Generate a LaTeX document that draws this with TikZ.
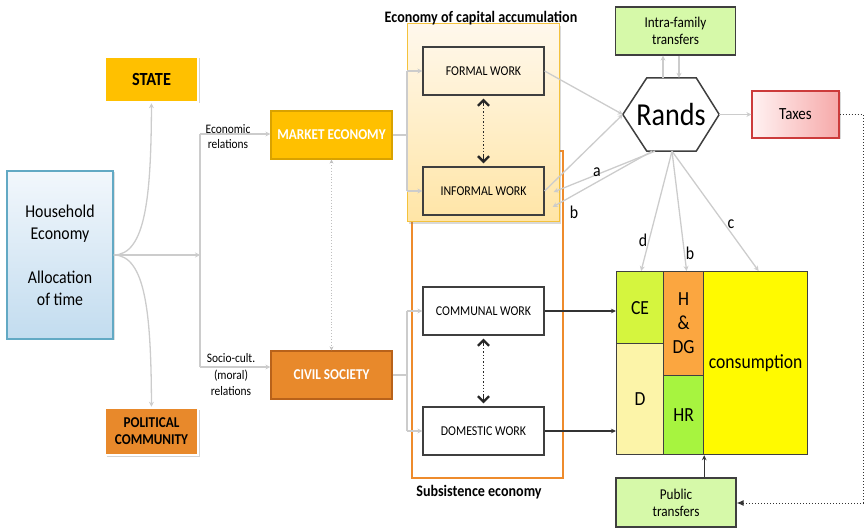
\documentclass[tikz,border=0pt]{standalone}
\usepackage{fontspec}
\setmainfont[FakeStretch=0.88]{Carlito}
\usetikzlibrary{arrows.meta,shadows,calc}

\definecolor{lineGrey}{HTML}{CCCCCC}
\definecolor{boxEdge}{HTML}{3F3F3F}
\definecolor{stateFill}{HTML}{FFC000}
\definecolor{stateEdge}{HTML}{D9A200}
\definecolor{civilFill}{HTML}{E8892B}
\definecolor{civilEdge}{HTML}{B8621A}
\definecolor{hhTop}{HTML}{F2F7FC}
\definecolor{hhBottom}{HTML}{C2DCEF}
\definecolor{hhEdge}{HTML}{62A9C4}
\definecolor{capTop}{HTML}{FFF8EC}
\definecolor{capBottom}{HTML}{FFE5A6}
\definecolor{capEdge}{HTML}{F4C23C}
\definecolor{subEdge}{HTML}{EE8B2C}
\definecolor{transferFill}{HTML}{D6F9A9}
\definecolor{taxLeft}{HTML}{FFF2F2}
\definecolor{taxRight}{HTML}{F6A9A9}
\definecolor{taxEdge}{HTML}{CC3B3B}
\definecolor{ceFill}{HTML}{D5F53E}
\definecolor{dFill}{HTML}{FCF4A8}
\definecolor{hdgFill}{HTML}{FBA640}
\definecolor{hrFill}{HTML}{A7F43F}
\definecolor{consFill}{HTML}{FFFA00}

\tikzset{
  fs/.style 2 args={font=\fontsize{#1}{#2}\selectfont},
  grey/.style={draw=lineGrey, line width=1.3pt},
  garrow/.style={grey, -{Stealth[length=5pt,width=5pt]}},
  darrow/.style={draw=black!80, line width=1.4pt, -{Stealth[length=5pt,width=4.5pt]}},
  dotlink/.style={draw=black!85, line width=1.3pt, dotted},
  chevtip/.style={draw=black!85, line width=1.3pt, solid,
    -{Straight Barb[length=5.5pt,width=11pt,line width=2.4pt]}},
  workbox/.style={draw=boxEdge, line width=1.2pt, minimum width=121pt, minimum height=48pt,
    inner sep=0pt, fs={13.5}{16}},
  colourbox/.style={minimum width=121pt, minimum height=48pt, inner sep=0pt,
    text=white, font=\bfseries\fontsize{15}{18}\selectfont},
  pillar/.style={draw=white, line width=2.5pt, minimum width=93pt, inner sep=0pt,
    align=center, drop shadow={shadow xshift=1.5pt, shadow yshift=-1.5pt, opacity=0.35}},
  transfer/.style={draw=boxEdge, line width=1.2pt, fill=transferFill, minimum width=120pt,
    minimum height=48pt, inner sep=0pt, align=center, fs={15}{17}},
  cell/.style={draw=boxEdge, line width=1.2pt, anchor=north west, inner sep=0pt,
    align=center, fs={20}{24}},
  letter/.style={fs={18}{20}},
  caption/.style={font=\bfseries\fontsize{16}{18}\selectfont},
}

\begin{document}
\begin{tikzpicture}[x=1pt,y=-1pt]
\useasboundingbox (0,0) rectangle (865,529);

% ---- household and the two spheres it reaches ----
\node[draw=hhEdge, line width=1.2pt, top color=hhTop, bottom color=hhBottom,
      minimum width=106pt, minimum height=168pt, inner sep=0pt, align=center,
      fs={18}{22},
      drop shadow={shadow xshift=1.5pt, shadow yshift=-1.5pt, opacity=0.25}]
  (hh) at (60,255) {Household\\Economy\\[22pt]Allocation\\of time};

\node[pillar, fill=stateFill, minimum height=45pt,
      font=\bfseries\fontsize{18.5}{20}\selectfont] (state) at (151.5,79.5) {STATE};
\node[pillar, fill=civilFill, minimum height=47pt,
      font=\bfseries\fontsize{15}{17}\selectfont] (polcom) at (151.5,431.5) {POLITICAL\\COMMUNITY};

\draw[garrow] (hh.east) .. controls (146,255) and (151,195) .. (state.south);
\draw[garrow] (hh.east) .. controls (146,255) and (151,315) .. (polcom.north);

% ---- economic and socio-cultural relations ----
\node[colourbox, draw=stateEdge, line width=1.2pt, fill=stateFill] (market) at (331.5,135) {MARKET ECONOMY};
\node[colourbox, draw=civilEdge, line width=1.2pt, fill=civilFill] (civil) at (331.5,375) {CIVIL SOCIETY};

\coordinate (split) at (200,255);
\coordinate (splitTop) at (200,134);
\coordinate (splitBot) at (200,367);
\draw[garrow] (hh.east) -- (split);
\draw[grey] (splitTop) -- (splitBot);
\draw[garrow] (splitTop) -- (splitTop -| market.west);
\draw[garrow] (splitBot) -- (splitBot -| civil.west);

\node[fs={13}{15}, align=center] (econlab) at (228,137) {Economic\\relations};
\node[fs={13}{16.5}, align=center] (sociolab) at (231,375) {Socio-cult.\\(moral)\\relations};

\draw[draw=black!25, line width=0.9pt, dotted,
      {Stealth[length=4pt,width=4pt]}-{Stealth[length=4pt,width=4pt]}]
  (market.south) -- (civil.north);

% ---- subsistence economy frame (under the capital frame) ----
\draw[draw=subEdge, line width=1.8pt] (412,151) rectangle (563,478);
\node[caption] (subtitle) at (479,492) {Subsistence economy};

% ---- economy of capital accumulation ----
\draw[draw=capEdge, line width=1pt, top color=capTop, bottom color=capBottom,
      drop shadow={shadow xshift=2pt, shadow yshift=-2pt, opacity=0.3}]
  (407,24) rectangle (559,222);
\node[caption] (captitle) at (481,18) {Economy of capital accumulation};

\node[workbox] (formal) at (483.5,71) {FORMAL WORK};
\node[workbox] (informal) at (483.5,191) {INFORMAL WORK};
\node[workbox] (communal) at (483.5,311) {COMMUNAL WORK};
\node[workbox] (domestic) at (483.5,431) {DOMESTIC WORK};

% dotted two-way links between the kinds of work
\draw[dotlink] ([yshift=-6pt]formal.south) -- ([yshift=6pt]informal.north);
\draw[chevtip] ([yshift=-10pt]formal.south) -- ([yshift=-3pt]formal.south);
\draw[chevtip] ([yshift=10pt]informal.north) -- ([yshift=3pt]informal.north);
\draw[dotlink] ([yshift=-6pt]communal.south) -- ([yshift=6pt]domestic.north);
\draw[chevtip] ([yshift=-10pt]communal.south) -- ([yshift=-3pt]communal.south);
\draw[chevtip] ([yshift=10pt]domestic.north) -- ([yshift=3pt]domestic.north);

% forks from the two spheres into the kinds of work
\coordinate (mfork) at (407,135);
\coordinate (mforkTop) at (407,71);
\coordinate (mforkBot) at (407,191);
\draw[grey] (market.east) -- (mfork);
\draw[grey] (mforkTop) -- (mforkBot);
\draw[garrow] (mforkTop) -- (formal.west);
\draw[garrow] (mforkBot) -- (informal.west);

\coordinate (cfork) at (407,375);
\coordinate (cforkTop) at (407,311);
\coordinate (cforkBot) at (407,431);
\draw[grey] (civil.east) -- (cfork);
\draw[grey] (cforkTop) -- (cforkBot);
\draw[garrow] (cforkTop) -- (communal.west);
\draw[garrow] (cforkBot) -- (domestic.west);

% ---- money flows ----
\node[transfer] (intra) at (675.5,31) {Intra-family\\transfers};

\node[minimum width=96pt, minimum height=73pt, inner sep=0pt, fs={32}{34}] (rands) at (671,114.5) {Rands};
\draw[draw=boxEdge, line width=1.5pt, line join=miter]
  (rands.west) -- ([xshift=24pt]rands.north west) -- ([xshift=-23pt]rands.north east)
  -- (rands.east) -- ([xshift=-23pt]rands.south east) -- ([xshift=24pt]rands.south west) -- cycle;

\node[draw=taxEdge, line width=1.2pt, left color=taxLeft, right color=taxRight,
      minimum width=87pt, minimum height=47pt, inner sep=0pt, fs={17}{19},
      drop shadow={shadow xshift=1.5pt, shadow yshift=-1.5pt, opacity=0.3}]
  (taxes) at (795.5,114.5) {Taxes};

\draw[garrow] (formal.east) -- (rands.west);
\draw[garrow] (informal.east) -- (rands.west);
\draw[garrow] ([xshift=-16pt]rands.south) -- ([xshift=9pt,yshift=-1pt]informal.east);
\draw[garrow] ([xshift=-19pt]rands.south) -- ([xshift=8pt,yshift=-16pt]informal.east);
\node[letter] (la) at (597,172) {a};
\node[letter] (lb1) at (574,212) {b};

\draw[garrow] ([xshift=-8pt]rands.north) -- ([xshift=-12.5pt]intra.south);
\draw[garrow] ([xshift=3.5pt]intra.south) -- ([xshift=8pt]rands.north);
\draw[garrow] (rands.east) -- (taxes.west);

% ---- household budget ----
\node[cell, fill=ceFill, minimum width=47pt, minimum height=72pt] (ce) at (616,271) {CE};
\node[cell, fill=dFill, minimum width=47pt, minimum height=111pt] (dd) at (616,343) {D};
\node[cell, fill=hdgFill, minimum width=40pt, minimum height=104pt] (hdg) at (663,271) {H\\\&\\DG};
\node[cell, fill=hrFill, minimum width=40pt, minimum height=79pt] (hr) at (663,375) {HR};
\node[cell, fill=consFill, minimum width=104pt, minimum height=183pt] (cons) at (703,271) {consumption};

\draw[garrow] ([xshift=1pt]rands.south) -- ([xshift=1pt]ce.north);
\draw[garrow] ([xshift=1pt]rands.south) -- ([xshift=3pt]hdg.north);
\draw[garrow] ([xshift=1pt]rands.south) -- ([xshift=3pt]cons.north);
\node[letter] (ld) at (643,240) {d};
\node[letter] (lb2) at (690,253) {b};
\node[letter] (lc) at (731,224) {c};

\draw[darrow] (communal.east) -- (communal.east -| ce.west);
\draw[darrow] (domestic.east) -- (domestic.east -| dd.west);

\node[transfer, minimum height=49pt] (pub) at (676,502.5) {Public\\transfers};
\draw[darrow] (pub.north -| hr.south east) -- (hr.south east);

\coordinate (taxTurn) at (863,114.5);
\coordinate (pubTurn) at (863,503);
\draw[draw=black!80, line width=1pt, dotted, -{Latex[length=7pt,width=6pt]}]
  (taxes.east) -- (taxTurn) -- (pubTurn) -- (pub.east |- pubTurn);

\end{tikzpicture}
\end{document}
